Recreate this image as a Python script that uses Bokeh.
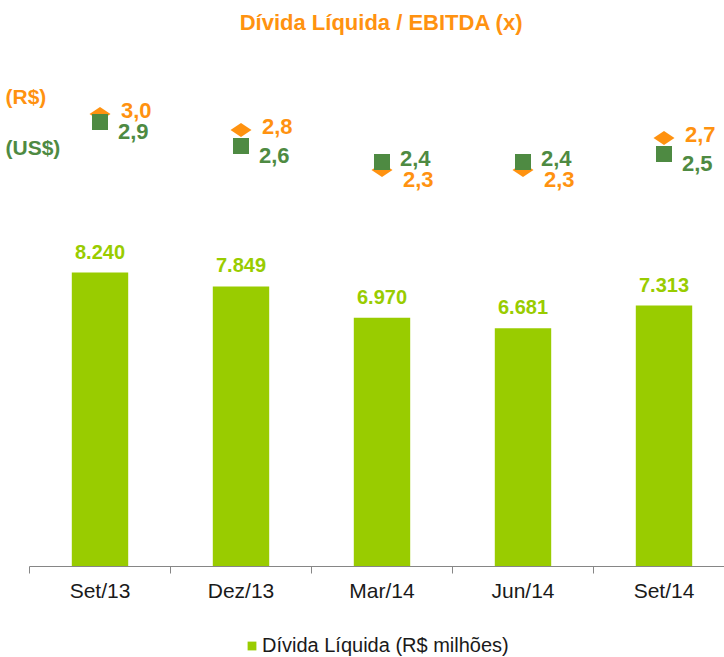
from bokeh.plotting import figure
from bokeh.models import (ColumnDataSource, Range1d, LinearAxis, FixedTicker,
                          Label, Legend, LegendItem)
from bokeh.embed import file_html
from bokeh.resources import INLINE
from bokeh.core.properties import value

# ---------------- data ----------------
categories = ["Set/13", "Dez/13", "Mar/14", "Jun/14", "Set/14"]
divida_liquida = [8240, 7849, 6970, 6681, 7313]          # R$ milhões
ratio_brl = [3.0, 2.8, 2.3, 2.3, 2.7]                    # Dívida Líquida / EBITDA (R$)
ratio_usd = [2.9, 2.6, 2.4, 2.4, 2.5]                    # Dívida Líquida / EBITDA (US$)

# ---------------- styles ----------------
ORANGE = "#FF9210"
DGREEN = "#4E8A42"
LGREEN = "#99CC00"
FONT = "Liberation Sans"

W, H = 724, 657

xs = [i + 0.5 for i in range(len(categories))]
src = ColumnDataSource(dict(
    x=xs,
    cat=categories,
    debt=divida_liquida,
    debt_lbl=[f"{v:,}".replace(",", ".") for v in divida_liquida],
    brl=ratio_brl,
    usd=ratio_usd,
    brl_lbl=[f"{v:.1f}".replace(".", ",") for v in ratio_brl],
    usd_lbl=[f"{v:.1f}".replace(".", ",") for v in ratio_usd],
    brl_off=[-4 if b >= u else 9 for b, u in zip(ratio_brl, ratio_usd)],
    usd_off=[9 if b >= u else -4 for b, u in zip(ratio_brl, ratio_usd)],
))

p = figure(width=W, height=H, output_backend="svg", toolbar_location=None,
           x_range=Range1d(-0.20567, 4.92908), y_range=Range1d(-2550.5, 15863.9),
           y_axis_location=None, x_axis_location=None,
           min_border_left=0, min_border_right=0, min_border_top=0,
           min_border_bottom=0)
p.outline_line_color = None
p.xgrid.visible = False
p.ygrid.visible = False
p.background_fill_color = "white"
p.border_fill_color = "white"

p.extra_y_ranges = {"ratio": Range1d(-3.79375, 4.41875)}

# x axis (drawn at value 0 of the debt scale)
xaxis = LinearAxis(ticker=FixedTicker(ticks=xs, minor_ticks=list(range(len(categories) + 1))),
                   major_label_overrides={x: c for x, c in zip(xs, categories)},
                   fixed_location=0, bounds=(0, 4.92908))
xaxis.axis_line_color = "#868686"
xaxis.minor_tick_line_color = "#868686"
xaxis.minor_tick_out = 7
xaxis.minor_tick_in = 0
xaxis.major_tick_out = 0
xaxis.major_tick_in = 0
xaxis.major_label_text_font = FONT
xaxis.major_label_text_font_size = "21px"
xaxis.major_label_text_color = "#1a1a1a"
xaxis.major_label_standoff = 5
p.add_layout(xaxis, "below")

# bars
bars = p.vbar(x="x", top="debt", width=0.4, source=src, fill_color=LGREEN, line_color=None)
p.text(x="x", y="debt", text="debt_lbl", source=src, text_align="center",
       text_baseline="alphabetic", y_offset=-21, text_font=value(FONT),
       text_font_style="bold", text_font_size="20px", text_color=LGREEN)

# ratio markers
p.scatter(x="x", y="brl", source=src, marker="diamond", angle=1.5708, size=21,
          fill_color=ORANGE, line_color=None, y_range_name="ratio")
p.scatter(x="x", y="usd", source=src, marker="square", size=16,
          fill_color=DGREEN, line_color=None, y_range_name="ratio")
p.text(x="x", y="brl", text="brl_lbl", source=src, x_offset=21, y_offset="brl_off",
       text_align="left", text_baseline="middle", text_font=value(FONT),
       text_font_style="bold", text_font_size="22px", text_color=ORANGE,
       y_range_name="ratio")
p.text(x="x", y="usd", text="usd_lbl", source=src, x_offset=18, y_offset="usd_off",
       text_align="left", text_baseline="middle", text_font=value(FONT),
       text_font_style="bold", text_font_size="22px", text_color=DGREEN,
       y_range_name="ratio")

# titles / series labels
p.add_layout(Label(x=381, y=H - 22, x_units="screen", y_units="screen",
                   text="Dívida Líquida / EBITDA (x)", text_align="center",
                   text_baseline="middle", text_font=FONT, text_font_style="bold",
                   text_font_size="22px", text_color=ORANGE))
p.add_layout(Label(x=5, y=H - 96, x_units="screen", y_units="screen",
                   text="(R$)", text_align="left", text_baseline="middle",
                   text_font=FONT, text_font_style="bold", text_font_size="21px",
                   text_color=ORANGE))
p.add_layout(Label(x=5, y=H - 147, x_units="screen", y_units="screen",
                   text="(US$)", text_align="left", text_baseline="middle",
                   text_font=FONT, text_font_style="bold", text_font_size="21px",
                   text_color=DGREEN))

legend = Legend(items=[LegendItem(label="Dívida Líquida (R$ milhões)", renderers=[bars])],
                location=(246, 0), orientation="horizontal",
                glyph_width=11, glyph_height=11, label_standoff=5, padding=0,
                margin=0, spacing=0, border_line_color=None,
                background_fill_alpha=0, label_text_font=FONT,
                label_text_font_size="20px", label_text_color="#1a1a1a")
p.add_layout(legend, "center")

open("out.html", "w").write(file_html(p, INLINE))
